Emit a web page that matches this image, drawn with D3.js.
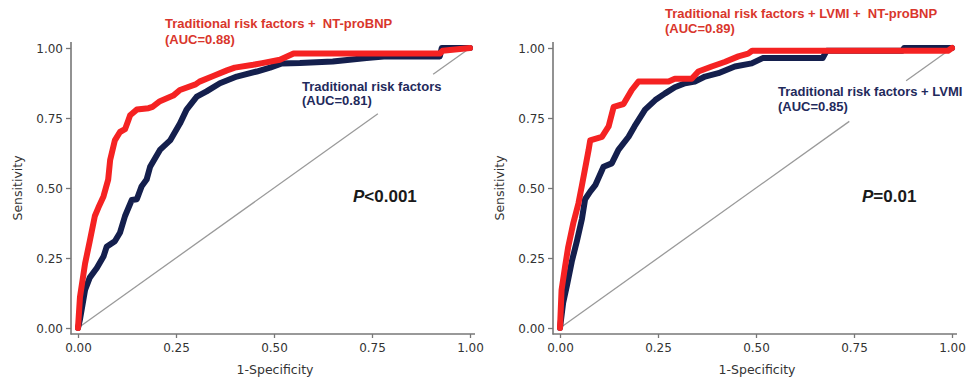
<!DOCTYPE html>
<html>
<head>
<meta charset="utf-8">
<script src="https://cdn.jsdelivr.net/npm/d3@7"></script>
<style>
  body { margin: 0; background: #fff; }
  svg { display: block; }
  .tick text { font-family: "DejaVu Sans", sans-serif; font-size: 12px; fill: #333; }
  .lbl { font-family: "Liberation Sans", Arial, sans-serif; font-weight: bold; font-size: 13px; white-space: pre; }
</style>
</head>
<body>
<div id="chart"></div>
<script>
// ROC points as [1-specificity, sensitivity]
const leftNavy = [[0,0],[0.005,0.03],[0.018,0.136],[0.03,0.18],[0.048,0.214],[0.065,0.255],[0.073,0.29],[0.094,0.31],[0.107,0.34],[0.12,0.40],[0.137,0.457],[0.15,0.46],[0.162,0.505],[0.175,0.53],[0.184,0.576],[0.209,0.636],[0.235,0.67],[0.26,0.73],[0.277,0.78],[0.303,0.826],[0.328,0.845],[0.362,0.874],[0.405,0.898],[0.456,0.916],[0.49,0.93],[0.52,0.945],[0.566,0.946],[0.65,0.952],[0.736,0.964],[0.78,0.97],[0.923,0.97],[0.928,1.0],[1,1]];
const leftRed = [[0,0],[0.005,0.11],[0.018,0.23],[0.03,0.31],[0.043,0.40],[0.052,0.43],[0.065,0.47],[0.077,0.53],[0.082,0.60],[0.094,0.67],[0.107,0.70],[0.12,0.71],[0.128,0.74],[0.133,0.76],[0.15,0.78],[0.18,0.785],[0.19,0.79],[0.209,0.81],[0.243,0.83],[0.26,0.85],[0.30,0.87],[0.31,0.88],[0.345,0.90],[0.38,0.92],[0.40,0.93],[0.447,0.94],[0.47,0.946],[0.515,0.958],[0.55,0.98],[0.923,0.98],[0.93,0.99],[1,1]];
const rightNavy = [[0,0],[0.008,0.09],[0.018,0.154],[0.03,0.237],[0.043,0.31],[0.056,0.39],[0.064,0.46],[0.077,0.487],[0.09,0.51],[0.111,0.576],[0.132,0.588],[0.149,0.636],[0.175,0.683],[0.19,0.72],[0.217,0.78],[0.243,0.814],[0.268,0.838],[0.293,0.86],[0.319,0.874],[0.344,0.88],[0.37,0.898],[0.404,0.91],[0.446,0.934],[0.489,0.945],[0.517,0.964],[0.67,0.964],[0.68,0.99],[0.873,0.99],[0.878,1.0],[1,1]];
const rightRed = [[0,0],[0.004,0.136],[0.013,0.22],[0.021,0.29],[0.034,0.375],[0.047,0.445],[0.056,0.51],[0.073,0.636],[0.077,0.67],[0.107,0.683],[0.124,0.72],[0.137,0.79],[0.162,0.80],[0.183,0.85],[0.2,0.88],[0.277,0.88],[0.293,0.89],[0.336,0.89],[0.353,0.916],[0.387,0.934],[0.42,0.95],[0.455,0.97],[0.48,0.98],[0.49,0.99],[0.99,0.99],[1,1]];

// reference diagonal, broken where the navy label sits
const leftDiag = [[[0,0],[0.765,0.765]], [[0.906,0.906],[1,1]]];
const rightDiag = [[[0,0],[0.738,0.738]], [[0.883,0.883],[1,1]]];

const ticks = [0, 0.25, 0.5, 0.75, 1];
const tickLabels = ['0.00', '0.25', '0.50', '0.75', '1.00'];

const panels = [
  { ox: 0, navy: leftNavy, red: leftRed, diag: leftDiag,
    redText: ['Traditional risk factors +  NT-proBNP', '(AUC=0.88)'], redPos: [165, 28, 44],
    navyText: ['Traditional risk factors', '(AUC=0.81)'], navyPos: [302, 91, 105],
    pSym: '<0.001', pPos: [353, 202] },
  { ox: 482, navy: rightNavy, red: rightRed, diag: rightDiag,
    redText: ['Traditional risk factors + LVMI +  NT-proBNP', '(AUC=0.89)'], redPos: [665, 18, 33],
    navyText: ['Traditional risk factors + LVMI', '(AUC=0.85)'], navyPos: [778, 96, 111],
    pSym: '=0.01', pPos: [862, 202] }
];

const width = 970, height = 386;
const svg = d3.select('#chart').append('svg').attr('width', width).attr('height', height);

const x = d3.scaleLinear().domain([0, 1]).range([78, 470]);
const y = d3.scaleLinear().domain([0, 1]).range([328, 48]);
const fmt = (d) => tickLabels[ticks.indexOf(d)];

panels.forEach((p) => {
  const g = svg.append('g').attr('transform', `translate(${p.ox},0)`);

  // axes
  const axX = g.append('g').attr('transform', 'translate(0,334)')
    .call(d3.axisBottom(x).tickValues(ticks).tickFormat(fmt).tickSize(4).tickPadding(5));
  const axY = g.append('g').attr('transform', 'translate(71,0)')
    .call(d3.axisLeft(y).tickValues(ticks).tickFormat(fmt).tickSize(5).tickPadding(3));
  [axX, axY].forEach((a) => {
    a.select('.domain').remove();
    a.selectAll('.tick line').attr('stroke', '#777').attr('stroke-width', 1.3);
  });
  axY.selectAll('.tick text').attr('dy', '0.36em');
  g.append('line').attr('x1', 71).attr('x2', 71).attr('y1', 42).attr('y2', 334.5)
    .attr('stroke', '#777').attr('stroke-width', 1.6);
  g.append('line').attr('x1', 70.5).attr('x2', 475).attr('y1', 334).attr('y2', 334)
    .attr('stroke', '#777').attr('stroke-width', 1.6);

  g.append('text').attr('transform', 'translate(22,188) rotate(-90)')
    .attr('text-anchor', 'middle')
    .style('font-family', '"DejaVu Sans", sans-serif').style('font-size', '12.5px').attr('fill', '#333')
    .text('Sensitivity');
  g.append('text').attr('x', 275).attr('y', 374)
    .attr('text-anchor', 'middle')
    .style('font-family', '"DejaVu Sans", sans-serif').style('font-size', '12.5px').attr('fill', '#333')
    .text('1-Specificity');

  const line = d3.line().x((d) => x(d[0])).y((d) => y(d[1]));

  p.diag.forEach((seg) => {
    g.append('path').attr('d', line(seg)).attr('fill', 'none')
      .attr('stroke', '#9a9a9a').attr('stroke-width', 1.3);
  });

  g.append('path').datum(p.navy).attr('d', line).attr('fill', 'none')
    .attr('stroke', '#141f4d').attr('stroke-width', 6)
    .attr('stroke-linejoin', 'round').attr('stroke-linecap', 'round');
  g.append('path').datum(p.red).attr('d', line).attr('fill', 'none')
    .attr('stroke', '#f52222').attr('stroke-width', 6)
    .attr('stroke-linejoin', 'round').attr('stroke-linecap', 'round');

  // P value
  const pt = svg.append('text').attr('x', p.pPos[0]).attr('y', p.pPos[1])
    .style('font-family', '"Liberation Sans", Arial, sans-serif')
    .style('font-size', '17px').style('font-weight', 'bold').attr('fill', '#1a1a1a');
  pt.append('tspan').style('font-style', 'italic').text('P');
  pt.append('tspan').text(p.pSym);

  // curve labels
  svg.append('text').attr('class', 'lbl').attr('x', p.redPos[0]).attr('y', p.redPos[1])
    .attr('fill', '#d9362c').text(p.redText[0]);
  svg.append('text').attr('class', 'lbl').attr('x', p.redPos[0]).attr('y', p.redPos[2])
    .attr('fill', '#d9362c').text(p.redText[1]);
  svg.append('text').attr('class', 'lbl').attr('x', p.navyPos[0]).attr('y', p.navyPos[1])
    .attr('fill', '#1f2a5c').text(p.navyText[0]);
  svg.append('text').attr('class', 'lbl').attr('x', p.navyPos[0]).attr('y', p.navyPos[2])
    .attr('fill', '#1f2a5c').text(p.navyText[1]);
});
</script>
</body>
</html>
